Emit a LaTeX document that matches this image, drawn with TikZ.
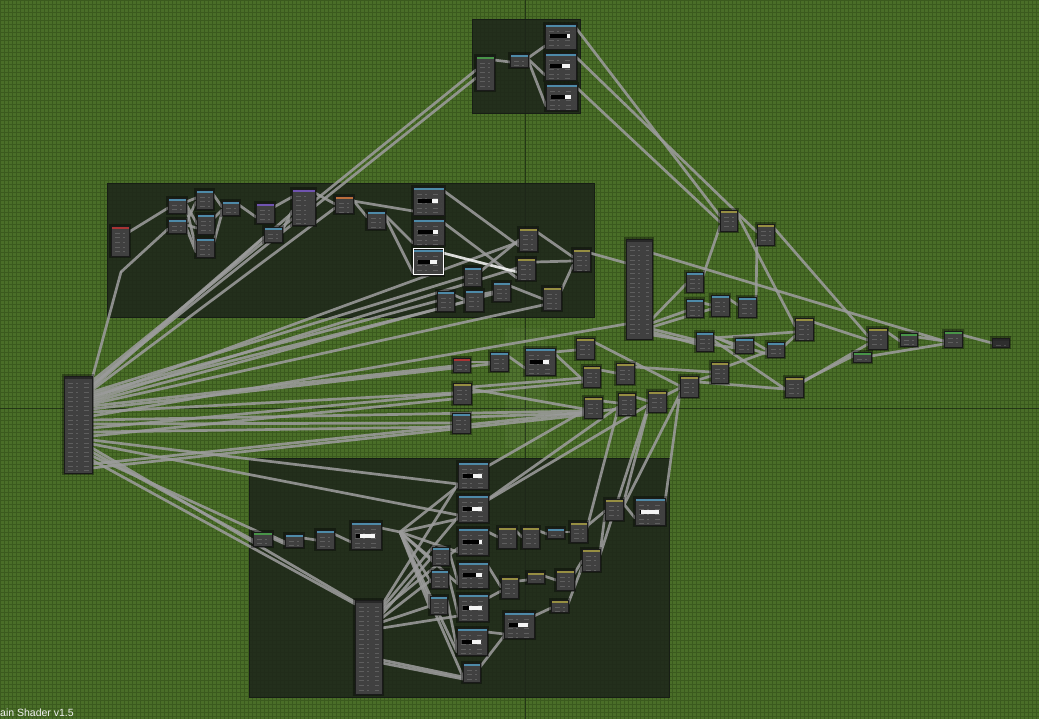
\documentclass[tikz,border=0pt]{standalone}
\usepackage{fontspec}
\setmainfont{Liberation Sans}
\usetikzlibrary{calc}
\definecolor{bgg}{RGB}{74,110,40}
\definecolor{gridg}{RGB}{59,90,30}
\definecolor{axisg}{RGB}{36,54,22}
\definecolor{frmc}{RGB}{29,37,26}
\definecolor{nbody}{RGB}{64,64,64}
\definecolor{nedge}{RGB}{26,26,26}
\definecolor{hblue}{RGB}{78,138,168}
\definecolor{hyel}{RGB}{150,142,66}
\definecolor{hred}{RGB}{168,52,52}
\definecolor{hpur}{RGB}{112,84,176}
\definecolor{hora}{RGB}{186,110,60}
\definecolor{hgrn}{RGB}{72,148,72}
\definecolor{hdark}{RGB}{40,40,40}
\definecolor{wirec}{RGB}{155,155,155}
\pgfdeclarelayer{bgl}
\pgfdeclarelayer{wirel}
\pgfsetlayers{bgl,wirel,main}
\tikzset{
  nbox/.style={draw=nedge, line width=0.6pt, fill=nbody, inner sep=0pt, outer sep=0pt,
    preaction={draw=black, draw opacity=0.35, line width=4pt}},
  hdr/.style={path picture={%
    \foreach \k in {1,...,20}
      \draw[white, opacity=0.16, line width=0.8pt, dash pattern=on 5pt off 3pt on 2pt off 6pt]
        ([xshift=4pt,yshift={-2.6pt-\k*4.6pt}]path picture bounding box.north west) --
        ([xshift=-3pt,yshift={-2.6pt-\k*4.6pt}]path picture bounding box.north east);
    \fill[#1] (path picture bounding box.north west) rectangle ([yshift=-2.6pt]path picture bounding box.north east);}},
  wire/.style={draw=wirec, line width=2.7pt, line cap=round, opacity=0.88},
  hl/.style={draw=white!92!gray},
  frmbox/.style={fill=frmc, fill opacity=0.85, draw=frmc!80!black, line width=0.5pt},
}
\newcommand\mknode[6]{\node[nbox,hdr=#6,minimum width={#4-#2},minimum height={#5-#3}] (#1) at ({(#2+#4)/2},{(#3+#5)/2}) {};}
\newcommand\mklink[5][]{\draw[wire,#1] ([yshift=-#3pt]#2.north east) -- ([yshift=-#5pt]#4.north west);}
\newcommand\mkramp[2]{\fill[black] ($(#1.west)+(5,-2)$) rectangle ($(#1.east)+(-6,2)$);
  \fill[white!92!gray] ($(#1.west)!#2!(#1.east)+(0,-2)$) rectangle ($(#1.east)+(-6,2)$);}
\begin{document}
\begin{tikzpicture}[x=1pt,y=-1pt]
\useasboundingbox (0,0) rectangle (1039,719);
\begin{pgfonlayer}{bgl}
\fill[bgg] (0,0) rectangle (1039,719);
\foreach \gx in {0,4,...,1039} \draw[gridg, line width=0.5pt] (\gx,0) -- (\gx,719);
\foreach \gy in {0,4,...,719} \draw[gridg, line width=0.5pt] (0,\gy) -- (1039,\gy);
\draw[axisg, line width=0.8pt] (525,0) -- (525,719);
\draw[axisg, line width=0.8pt] (0,408) -- (1039,408);
\fill[white, opacity=0.035] (505,328) rectangle (547,448);
\fill[frmbox] (472,19) rectangle (580,113);
\fill[frmbox] (107,183) rectangle (594,317);
\fill[frmbox] (249,458) rectangle (669,697);
\end{pgfonlayer}
% top frame
\mknode{T1}{476}{56}{494}{90}{hgrn}
\mknode{T2}{510}{54}{528}{67}{hblue}
\mknode{T3}{545}{24}{576}{49}{hblue}
\mknode{T4}{545}{53}{576}{80}{hblue}
\mknode{T5}{546}{84}{577}{110}{hblue}
% upper-left frame
\mknode{R}{111}{226}{129}{256}{hred}
\mknode{A}{168}{198}{186}{213}{hblue}
\mknode{B}{168}{219}{186}{233}{hblue}
\mknode{C}{196}{190}{213}{209}{hblue}
\mknode{D}{197}{214}{214}{234}{hblue}
\mknode{E}{196}{238}{214}{257}{hblue}
\mknode{F}{222}{201}{239}{215}{hblue}
\mknode{P1}{256}{203}{274}{223}{hpur}
\mknode{G}{264}{227}{282}{242}{hblue}
\mknode{P2}{292}{189}{315}{225}{hpur}
\mknode{O}{335}{196}{353}{213}{hora}
\mknode{H}{367}{211}{385}{229}{hblue}
\mknode{B1}{413}{187}{444}{215}{hblue}
\mknode{B2}{413}{219}{444}{245}{hblue}
\mknode{B3}{413}{249}{443}{275}{hblue}
\draw[white, line width=1pt] (B3.north west) rectangle (B3.south east);
\mknode{Y1}{519}{228}{537}{251}{hyel}
\mknode{Y2}{517}{258}{535}{280}{hyel}
\mknode{Y3}{573}{249}{590}{271}{hyel}
\mknode{Y4}{543}{287}{561}{310}{hyel}
\mknode{I}{464}{267}{481}{286}{hblue}
\mknode{J}{437}{291}{454}{311}{hblue}
\mknode{K}{465}{290}{483}{311}{hblue}
\mknode{Lb}{493}{282}{510}{301}{hblue}
% big group nodes
\mknode{L}{64}{376}{92}{473}{hdark}
\mknode{R2}{626}{239}{652}{339}{hdark}
% right area
\mknode{Ya}{720}{210}{737}{231}{hyel}
\mknode{Yb}{757}{224}{774}{245}{hyel}
\mknode{Bc}{686}{272}{703}{292}{hblue}
\mknode{Bd}{686}{299}{703}{317}{hblue}
\mknode{Be}{711}{295}{729}{316}{hblue}
\mknode{Bf}{738}{297}{756}{317}{hblue}
\mknode{Bh}{696}{332}{713}{351}{hblue}
\mknode{Bi}{735}{338}{753}{353}{hblue}
\mknode{Bj}{767}{342}{784}{357}{hblue}
\mknode{Yk}{795}{318}{813}{340}{hyel}
\mknode{Yn}{785}{377}{803}{397}{hyel}
\mknode{Yo}{868}{328}{887}{349}{hyel}
\mknode{Gp}{900}{333}{917}{346}{hgrn}
\mknode{Gq}{853}{352}{871}{362}{hgrn}
\mknode{Gr}{944}{331}{962}{347}{hgrn}
\node[nbox, fill=black!82, hdr=hdark, minimum width=17, minimum height=9] (Out) at (1000.5,342.5) {};
% middle
\mknode{Mred}{453}{358}{470}{372}{hred}
\mknode{Mblue}{490}{352}{508}{371}{hblue}
\mknode{Mbig}{525}{348}{555}{375}{hblue}
\mknode{My1}{576}{338}{594}{359}{hyel}
\mknode{My2}{583}{366}{600}{387}{hyel}
\mknode{My3}{616}{363}{634}{384}{hyel}
\mknode{MyL}{453}{383}{471}{404}{hyel}
\mknode{MbL}{452}{413}{470}{433}{hblue}
\mknode{My4}{584}{397}{602}{418}{hyel}
\mknode{My5}{618}{393}{635}{415}{hyel}
\mknode{My6}{648}{391}{666}{412}{hyel}
\mknode{My7}{680}{376}{698}{397}{hyel}
\mknode{My8}{711}{362}{728}{383}{hyel}
% bottom frame
\mknode{Bg}{253}{532}{272}{546}{hgrn}
\mknode{Bb1}{285}{534}{303}{547}{hblue}
\mknode{Bb2}{316}{530}{334}{549}{hblue}
\mknode{Bbig}{351}{522}{381}{549}{hblue}
\mknode{Btall}{355}{600}{382}{694}{hdark}
\mknode{S1}{458}{462}{488}{489}{hblue}
\mknode{S2}{458}{495}{488}{522}{hblue}
\mknode{S3}{458}{528}{488}{555}{hblue}
\mknode{S4}{458}{562}{488}{588}{hblue}
\mknode{S5}{458}{594}{488}{621}{hblue}
\mknode{S6}{457}{628}{487}{655}{hblue}
\mknode{S7}{463}{663}{480}{682}{hblue}
\mknode{Q1}{432}{547}{449}{565}{hblue}
\mknode{Q2}{431}{570}{448}{588}{hblue}
\mknode{Q3}{430}{596}{447}{614}{hblue}
\mknode{Z1}{498}{527}{516}{548}{hyel}
\mknode{Z2}{522}{527}{539}{548}{hyel}
\mknode{Zb}{547}{528}{564}{538}{hblue}
\mknode{Z3}{570}{522}{587}{542}{hyel}
\mknode{Z4}{605}{499}{623}{520}{hyel}
\mknode{Zbig}{635}{498}{665}{525}{hblue}
\mknode{Z5}{582}{549}{600}{571}{hyel}
\mknode{Z6}{527}{572}{544}{583}{hyel}
\mknode{Z7}{556}{570}{574}{590}{hyel}
\mknode{Z8}{501}{577}{518}{598}{hyel}
\mknode{Z9}{551}{600}{568}{612}{hyel}
\mknode{Zbig2}{504}{612}{534}{638}{hblue}
% colour ramps
\mkramp{T3}{0.7}\mkramp{T4}{0.55}\mkramp{T5}{0.6}
\mkramp{B1}{0.6}\mkramp{B2}{0.65}\mkramp{B3}{0.55}
\mkramp{Mbig}{0.6}\mkramp{Bbig}{0.3}
\mkramp{S1}{0.5}\mkramp{S2}{0.45}\mkramp{S3}{0.7}\mkramp{S4}{0.6}\mkramp{S5}{0.35}\mkramp{S6}{0.5}
\mkramp{Zbig}{0.2}\mkramp{Zbig2}{0.45}
\coordinate (r1) at (121,272);
\coordinate (r2) at (400,532);
\node[anchor=base west, text=white!88!gray, font=\fontsize{10.5}{12}\selectfont, inner sep=0pt] (title) at (0,716) {ain Shader v1.5};
\begin{pgfonlayer}{wirel}
% top frame
\mklink{T1}{4}{T2}{8}
\mklink{T2}{4}{T3}{22}
\mklink{T2}{5}{T4}{22}
\mklink{T2}{6}{T5}{22}
\mklink{T3}{4}{Ya}{6}
\mklink{T4}{4}{Yb}{8}
\mklink{T5}{4}{Ya}{12}
% left group outputs
\mklink{L}{5}{T1}{14}
\mklink{L}{8}{T1}{22}
\draw[wire] ([yshift=-3pt]L.north east) -- (r1);
\draw[wire] (r1) -- ([yshift=-10pt]B.north west);
\mklink{L}{10}{G}{10}
\mklink{L}{12}{P2}{24}
\mklink{L}{14}{O}{12}
\mklink{L}{16}{I}{10}
\mklink{L}{18}{J}{10}
\mklink{L}{20}{K}{12}
\mklink{L}{22}{Y1}{14}
\mklink{L}{24}{Y2}{10}
\mklink{L}{26}{Lb}{12}
\mklink{L}{28}{Y4}{18}
\mklink{L}{30}{Mred}{8}
\mklink{L}{33}{Mblue}{12}
\mklink{L}{36}{MyL}{10}
\mklink{L}{40}{R2}{85}
\mklink{L}{44}{My4}{14}
\mklink{L}{48}{MbL}{10}
\mklink{L}{52}{My2}{16}
\mklink{L}{56}{MbL}{14}
\mklink{L}{60}{MyL}{16}
\mklink{L}{64}{S1}{22}
\mklink{L}{68}{S2}{20}
\mklink{L}{72}{Btall}{2}
\mklink{L}{76}{Bg}{8}
\mklink{L}{80}{Bb1}{10}
\mklink{L}{84}{Btall}{4}
\mklink{L}{88}{My5}{16}
\mklink{L}{92}{My4}{18}
% upper-left frame
\mklink{R}{6}{A}{10}
\mklink{A}{4}{C}{8}
\mklink{A}{6}{D}{10}
\mklink{A}{8}{E}{10}
\mklink{B}{4}{C}{12}
\mklink{B}{6}{D}{14}
\mklink{B}{8}{E}{14}
\mklink{C}{4}{F}{6}
\mklink{D}{4}{F}{9}
\mklink{E}{4}{F}{12}
\mklink{F}{4}{P1}{14}
\mklink{P1}{4}{P2}{8}
\mklink{G}{4}{P2}{22}
\mklink{P2}{4}{O}{8}
\mklink{O}{4}{H}{6}
\mklink{O}{5}{B1}{24}
\mklink{H}{4}{B2}{24}
\mklink{H}{6}{B3}{24}
\mklink{B1}{4}{Y1}{18}
\mklink{B2}{4}{Y2}{20}
\mklink[hl]{B3}{4}{Y2}{14}
\mklink{I}{4}{Y1}{12}
\mklink{J}{4}{K}{10}
\mklink{K}{4}{Lb}{10}
\mklink{Lb}{4}{Y4}{12}
\mklink{Y1}{4}{Y3}{8}
\mklink{Y2}{4}{Y3}{12}
\mklink{Y4}{4}{Y3}{16}
\mklink{Y3}{4}{R2}{24}
% middle
\mklink{Mred}{4}{Mblue}{10}
\mklink{Mblue}{4}{Mbig}{20}
\mklink{Mbig}{4}{My1}{12}
\mklink{Mbig}{6}{My2}{14}
\mklink{My1}{4}{My7}{10}
\mklink{My2}{4}{My3}{10}
\mklink{My3}{4}{My8}{10}
\mklink{MyL}{4}{My2}{12}
\mklink{MyL}{6}{My4}{12}
\mklink{MbL}{4}{My4}{16}
\mklink{My4}{4}{My5}{10}
\mklink{My5}{4}{My6}{10}
\mklink{My6}{4}{My7}{12}
\mklink{My7}{4}{My8}{14}
\mklink{My7}{6}{Yn}{12}
\mklink{My8}{4}{Bj}{10}
% right area
\mklink{R2}{14}{Gr}{10}
\mklink{R2}{80}{Bc}{12}
\mklink{R2}{84}{Bd}{12}
\mklink{R2}{88}{Be}{14}
\mklink{R2}{90}{Bh}{8}
\mklink{R2}{93}{Bh}{12}
\mklink{R2}{96}{Bi}{10}
\mklink{Bc}{4}{Ya}{16}
\mklink{Bd}{4}{Be}{10}
\mklink{Be}{4}{Bf}{8}
\mklink{Bf}{4}{Yb}{16}
\mklink{Ya}{4}{Yk}{8}
\mklink{Yb}{4}{Yo}{8}
\mklink{Bh}{4}{Bi}{8}
\mklink{Bh}{5}{Bj}{12}
\mklink{Bi}{4}{Bj}{8}
\mklink{Bh}{6}{Yk}{14}
\mklink{Bj}{4}{Yk}{18}
\mklink{Bh}{8}{Yn}{12}
\mklink{Yk}{4}{Yo}{12}
\mklink{Yn}{4}{Gq}{4}
\mklink{Yn}{5}{Yo}{16}
\mklink{Yo}{4}{Gp}{8}
\mklink{Gp}{4}{Gr}{10}
\mklink{Gq}{4}{Gr}{13}
\mklink{Gr}{4}{Out}{5}
% bottom frame
\mklink{Bg}{4}{Bb1}{8}
\mklink{Bb1}{4}{Bb2}{10}
\mklink{Bb2}{4}{Bbig}{20}
\draw[wire] ([yshift=-6pt]Bbig.north east) -- (r2);
\foreach \tg/\dy in {S1/24,S2/24,S3/24,S4/22,S6/24,S7/14,Q1/12,Q2/12,Q3/12}
  \draw[wire] (r2) -- ([yshift=-\dy pt]\tg.north west);
\mklink{Btall}{5}{S1}{22}
\mklink{Btall}{8}{S2}{22}
\mklink{Btall}{10}{S3}{20}
\mklink{Btall}{14}{Q1}{10}
\mklink{Btall}{18}{Q2}{10}
\mklink{Btall}{22}{Q3}{10}
\mklink{Btall}{28}{S5}{22}
\mklink{Btall}{60}{S7}{14}
\mklink{Btall}{63}{S7}{16}
\mklink{Q1}{4}{S4}{20}
\mklink{Q2}{4}{S5}{20}
\mklink{Q3}{4}{S6}{20}
\mklink{S1}{4}{My4}{14}
\mklink{S2}{4}{My5}{14}
\mklink{S2}{5}{My6}{14}
\mklink{S3}{4}{Z1}{10}
\mklink{S4}{4}{Z8}{10}
\mklink{S5}{4}{Z8}{14}
\mklink{S6}{4}{Zbig2}{22}
\mklink{S7}{4}{Zbig2}{24}
\mklink{Z1}{4}{Z2}{10}
\mklink{Z2}{4}{Zb}{6}
\mklink{Zb}{4}{Z3}{10}
\mklink{Z3}{4}{Z4}{12}
\mklink{Z4}{4}{Zbig}{20}
\mklink{Zbig}{4}{My7}{16}
\mklink{Z8}{4}{Z6}{8}
\mklink{Z6}{4}{Z7}{10}
\mklink{Z7}{4}{Z5}{12}
\mklink{Z5}{4}{Z4}{16}
\mklink{Zbig2}{4}{Z9}{8}
\mklink{Z9}{4}{Z5}{18}
\mklink{Z5}{6}{My6}{16}
\mklink{Z4}{6}{My6}{18}
\mklink{Z3}{6}{My5}{16}
\mklink{Z4}{8}{My7}{18}
\end{pgfonlayer}
\end{tikzpicture}
\end{document}
